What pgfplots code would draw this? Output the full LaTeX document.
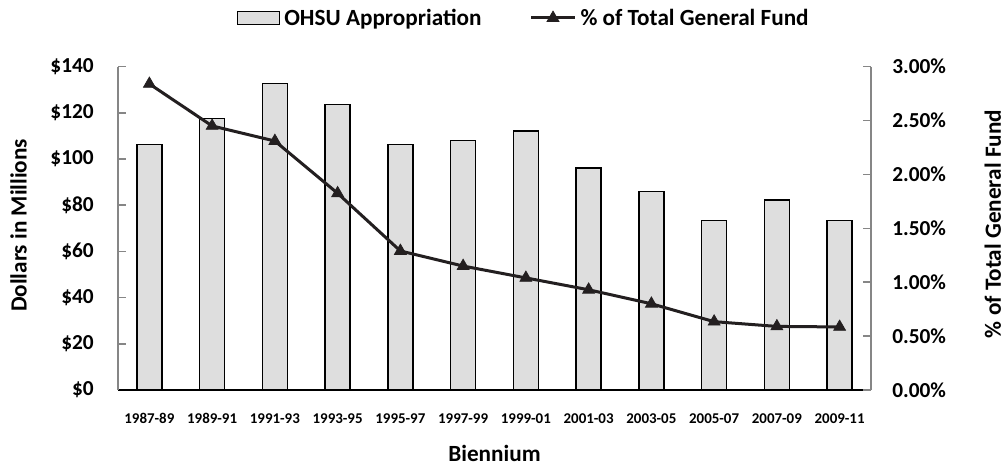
\documentclass[border=0pt]{standalone}
\usepackage{fontspec}
\setmainfont{Carlito}
\usepackage{pgfplots}
\pgfplotsset{compat=1.18}
\definecolor{barfill}{RGB}{222,222,222}
\definecolor{axgray}{RGB}{134,134,134}
\definecolor{linecol}{RGB}{35,31,32}

\pgfplotsset{
  common/.style={
    scale only axis,
    width=564.75pt, height=242.5pt,
    at={(0,0)}, anchor=south west,
    xmin=-0.5, xmax=11.5,
    tick align=inside,
    major tick length=6pt,
    y axis line style={draw=axgray,line width=1.5pt},
    ytick style={draw=axgray,line width=1.2pt},
    yticklabel style={font=\bfseries\fontsize{16}{19}\selectfont,inner sep=0pt},
    ylabel style={font=\bfseries\fontsize{17.4}{20}\selectfont,inner sep=0pt,anchor=base,rotate=0},
  },
  barlegend/.style={legend image code/.code={%
    \draw[##1] (0pt,-4.875pt) rectangle (31.5pt,4.875pt);}},
  linelegend/.style={legend image code/.code={%
    \draw[##1,mark repeat=2,mark phase=2]
      plot coordinates {(0pt,0pt) (16.5pt,0pt) (33pt,0pt)};}},
}

\begin{document}
\begin{tikzpicture}
\path[use as bounding box] (-88.5pt,-57pt) rectangle (665.25pt,292.5pt);

\begin{axis}[
  common,
  ymin=0, ymax=140,
  axis x line*=bottom, axis y line*=left,
  x axis line style={draw=black,line width=1.3pt,-},
  y axis line style={-},
  ytick={0,20,40,60,80,100,120,140},
  yticklabels={\$0,\$20,\$40,\$60,\$80,\$100,\$120,\$140},
  yticklabel style={anchor=east,xshift=-18pt},
  xtick={0,...,11},
  xticklabels={1987-89,1989-91,1991-93,1993-95,1995-97,1997-99,1999-01,2001-03,2003-05,2005-07,2007-09,2009-11},
  xtick style={draw=none},
  xticklabel style={font=\bfseries\fontsize{11.2}{13}\selectfont,inner sep=0pt,anchor=north,yshift=-11.5pt},
  xlabel={Biennium},
  xlabel style={font=\bfseries\fontsize{17.4}{20}\selectfont,inner sep=0pt,anchor=base,
    at={(axis description cs:0.5,0)},yshift=-53.3pt},
  ylabel={Dollars in Millions},
  ylabel style={at={(axis description cs:-0.1213,0.509)}},
  ybar, bar width=18.75pt,
]
\addplot[fill=barfill,draw=black,line width=1.1pt] coordinates {
  (0,106.4) (1,117.5) (2,132.7) (3,123.7) (4,106.4) (5,108.0)
  (6,112.2) (7,96.1) (8,85.9) (9,73.5) (10,82.3) (11,73.3)
};
\end{axis}

\begin{axis}[
  common,
  ymin=0, ymax=3,
  hide x axis,
  axis y line*=right,
  y axis line style={-},
  ytick={0,0.5,1,1.5,2,2.5,3},
  yticklabels={0.00\%,0.50\%,1.00\%,1.50\%,2.00\%,2.50\%,3.00\%},
  yticklabel style={anchor=west,xshift=15.75pt},
  ylabel={\% of Total General Fund},
  ylabel style={at={(axis description cs:1.1726,0.5135)}},
  legend style={draw=none,fill=none,inner sep=0pt,outer sep=0pt,
    at={(axis description cs:0.158,1.1506)},anchor=west,
    legend columns=2,
    font=\bfseries\fontsize{17.4}{20}\selectfont,
    nodes={inner sep=0pt},
    /tikz/every odd column/.append style={column sep=3pt},
    /tikz/every even column/.append style={column sep=36pt}},
  legend cell align=left,
]
\addlegendimage{fill=barfill,draw=black,line width=1pt,barlegend}
\addlegendentry{OHSU Appropriation}
\addplot[color=linecol,line width=2.25pt,mark=triangle*,mark size=5.2pt,
  mark options={solid,line width=0.5pt},linelegend] coordinates {
  (0,2.84) (1,2.45) (2,2.31) (3,1.825) (4,1.29) (5,1.15)
  (6,1.04) (7,0.93) (8,0.80) (9,0.634) (10,0.59) (11,0.585)
};
\addlegendentry{\% of Total General Fund}
\end{axis}
\end{tikzpicture}
\end{document}
